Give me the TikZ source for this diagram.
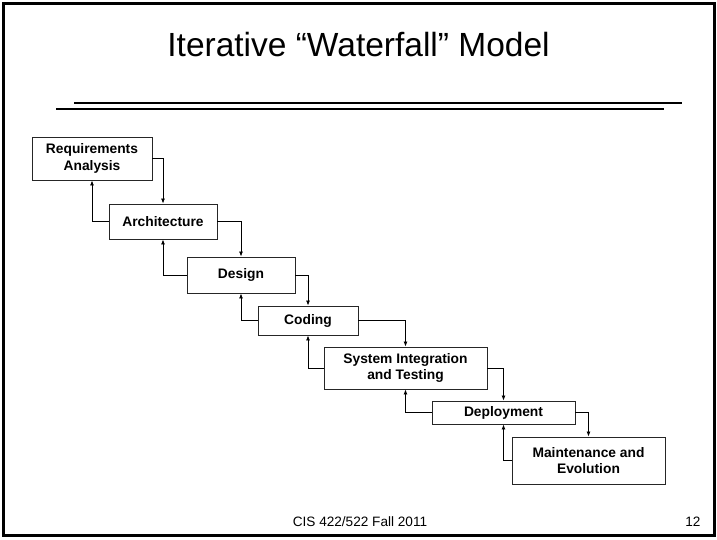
\documentclass[tikz,border=0pt]{standalone}
\usepackage{fontspec}
\setmainfont{Liberation Sans}
\usetikzlibrary{arrows.meta}

\begin{document}
\begin{tikzpicture}[x=1pt,y=-1pt,
    phase/.style={draw=black!85,line width=0.9pt,align=center,inner sep=0pt,
                  font=\fontsize{13.8}{16.5}\selectfont\bfseries},
    flow/.style={line width=0.8pt,-{Latex[length=5pt,width=4pt]}}]
                \useasboundingbox (0,0) rectangle (717,539);
                \draw[line width=3pt] (3,3) rectangle (714.5,535.5);
                \node[anchor=base,font=\fontsize{33.5}{36}\selectfont] (title) at (358.5,56) {Iterative “Waterfall” Model};
                \draw[line width=2.3pt] (74,102.7) -- (682,102.7);
                \draw[line width=2.3pt] (56,108.7) -- (664,108.7);
                \node[phase,minimum width=120,minimum height=43] (req)    at (92,158.5)   {Requirements\\Analysis};
                \node[phase,minimum width=108,minimum height=35] (arch)   at (163,221.5)  {Architecture};
                \node[phase,minimum width=108,minimum height=36] (design) at (241,275)    {Design};
                \node[phase,minimum width=100,minimum height=29] (coding) at (308,320.5)  {Coding};
                \node[phase,minimum width=163,minimum height=42] (sysint) at (405.5,368)  {System Integration\\and Testing};
                \node[phase,minimum width=143,minimum height=23] (deploy) at (503.5,412.5) {Deployment};
                \node[phase,minimum width=153,minimum height=47] (maint)  at (588.5,460.5) {Maintenance and\\Evolution};
                \foreach \a/\b in {req/arch,arch/design,design/coding,coding/sysint,sysint/deploy,deploy/maint}{
                    \draw[flow] (\a.east) -| (\b.north);
                    \draw[flow] (\b.west) -| (\a.south);
                }
                \node[anchor=base,font=\fontsize{13.6}{16}\selectfont] (foot) at (360,526) {CIS 422/522 Fall 2011};
                \node[anchor=base east,font=\fontsize{13.6}{16}\selectfont] (page) at (704,526) {12};
            \end{tikzpicture}
\end{document}
